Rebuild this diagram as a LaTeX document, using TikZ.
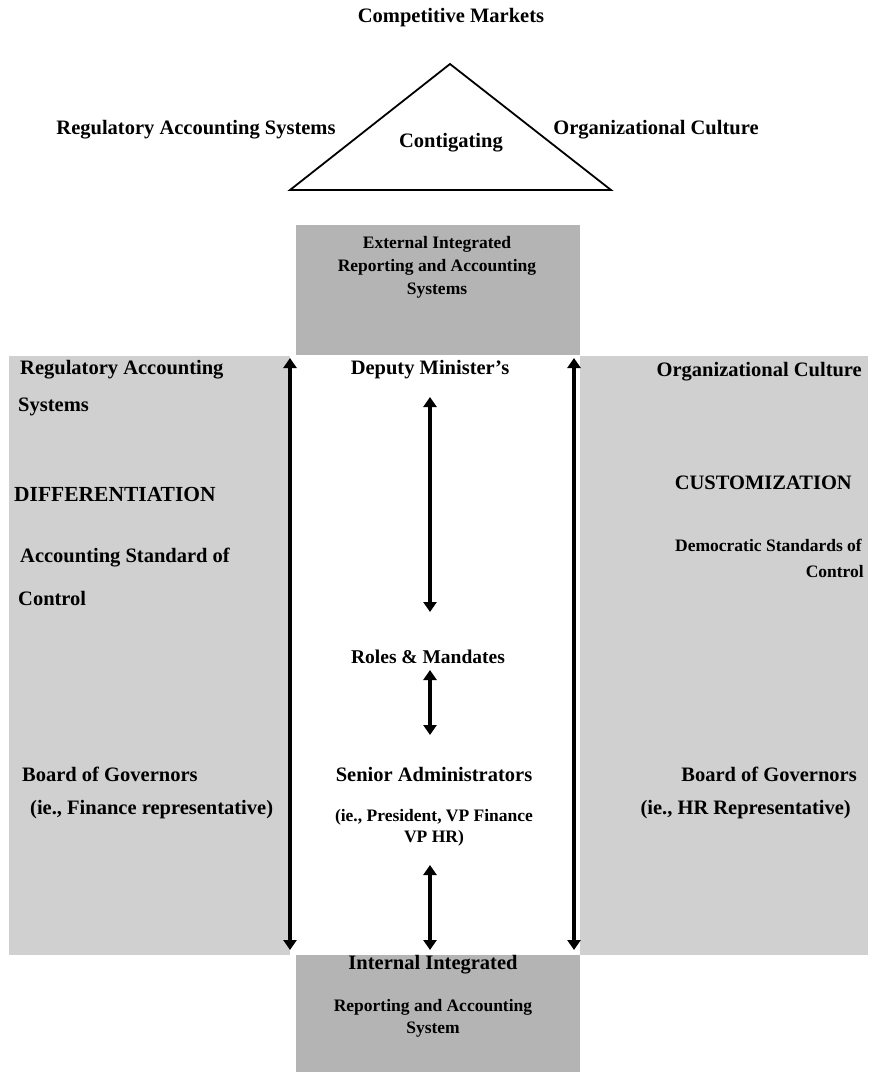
\documentclass[tikz,border=0pt]{standalone}
\usepackage{fontspec}
\setmainfont{Liberation Serif}
\usetikzlibrary{positioning,arrows.meta,calc}
\definecolor{panelgray}{HTML}{D0D0D0}
\definecolor{boxgray}{HTML}{B4B4B4}
\tikzset{
  lbl/.style   ={font=\fontsize{20.5}{24}\selectfont\bfseries, inner sep=0pt},
  big/.style   ={font=\fontsize{21.5}{24}\selectfont\bfseries, inner sep=0pt},
  small/.style ={font=\fontsize{17.5}{20}\selectfont\bfseries, inner sep=0pt},
  panel/.style ={fill=panelgray, draw=none},
  sysbox/.style={fill=boxgray, draw=none},
  dbl/.style   ={{Triangle[length=10pt,width=13pt]}-{Triangle[length=10pt,width=13pt]}, line width=4.6pt},
}

\begin{document}
\begin{tikzpicture}[x=1pt,y=-1pt]
  \useasboundingbox (0,0) rectangle (874,1087);

  % contingency triangle
  \coordinate (apex) at (450,64);
  \coordinate (bl)   at (290,190);
  \coordinate (br)   at (611,190);
  \draw[line width=1.8pt, line join=miter] (bl) -- (apex) -- (br) -- cycle;
  \node[lbl] (mkt)  at (451,18)  {Competitive Markets};
  \node[lbl] (reg)  at (196,130) {Regulatory Accounting Systems};
  \node[lbl] (cont) at (451,143) {Contigating};
  \node[lbl] (org)  at (656,130) {Organizational Culture};

  % side panels and system boxes
  \fill[panel]  (9,356)   rectangle (290,955);
  \fill[panel]  (580,356) rectangle (868,955);
  \fill[sysbox] (296,225) rectangle (580,355);
  \fill[sysbox] (296,955) rectangle (580,1072);

  \node[small, align=center] (ext) at (437,267)
        {External Integrated\\[3pt] Reporting and Accounting\\[3pt] Systems};
  \node[lbl] (int) at (433,965) {Internal Integrated};
  \node[small, align=center, below=25pt of int.south, anchor=north] (intsub)
        {Reporting and Accounting\\[2pt] System};

  % left panel: differentiation
  \node[lbl, anchor=west] (lreg)  at (20,370) {Regulatory Accounting};
  \node[lbl, anchor=west] (lsys)  at (18,407) {Systems};
  \node[big, anchor=west] (diff)  at (14,494) {DIFFERENTIATION};
  \node[lbl, anchor=west] (lstd)  at (20,558) {Accounting Standard of};
  \node[lbl, anchor=west] (lctl)  at (18,598) {Control};
  \node[lbl, anchor=west] (lbog)  at (22,774) {Board of Governors};
  \node[lbl, anchor=west] (lrep)  at (30,810) {(ie., Finance representative)};

  % right panel: customization
  \node[lbl, anchor=east] (rorg)  at (862,372) {Organizational Culture};
  \node[lbl, anchor=east] (cust)  at (852,483) {CUSTOMIZATION};
  \node[small, anchor=east] (rstd) at (862,545) {Democratic Standards of};
  \node[small, anchor=east] (rctl) at (864,572) {Control};
  \node[lbl, anchor=east] (rbog)  at (857,774) {Board of Governors};
  \node[lbl, anchor=east] (rrep)  at (851,810) {(ie., HR Representative)};

  % middle column
  \node[lbl]   (dep)   at (430,370) {Deputy Minister’s};
  \node[lbl, font=\fontsize{19.5}{22}\selectfont\bfseries] (roles) at (428,657) {Roles \& Mandates};
  \node[lbl]   (sen)   at (434,774) {Senior Administrators};
  \node[small, align=center] (pres) at (434,828)
        {(ie., President, VP Finance\\[1pt] VP HR)};

  % arrows
  \coordinate (la1) at (290,358); \coordinate (la2) at (290,950);
  \coordinate (ra1) at (574,358); \coordinate (ra2) at (574,950);
  \coordinate (m1a) at (430,397); \coordinate (m1b) at (430,612);
  \coordinate (m2a) at (430,670); \coordinate (m2b) at (430,735);
  \coordinate (m3a) at (430,865); \coordinate (m3b) at (430,950);
  \draw[dbl] (la1) -- (la2);
  \draw[dbl] (ra1) -- (ra2);
  \draw[dbl] (m1a) -- (m1b);
  \draw[dbl] (m2a) -- (m2b);
  \draw[dbl] (m3a) -- (m3b);
\end{tikzpicture}
\end{document}
